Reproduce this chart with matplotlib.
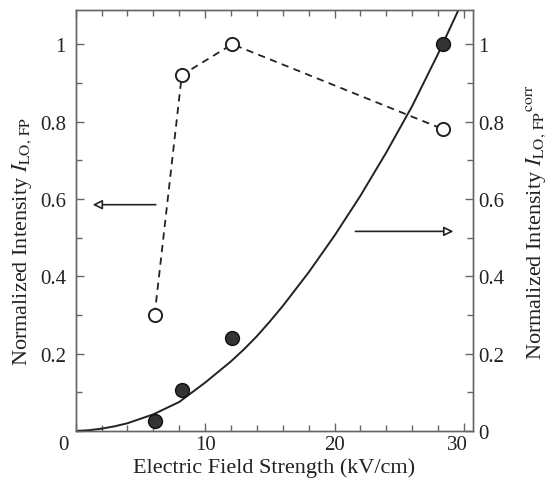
import matplotlib
matplotlib.use("Agg")
import matplotlib.pyplot as plt
import matplotlib.transforms as mtransforms
from matplotlib.ticker import MultipleLocator, FixedLocator

plt.rcParams["font.family"] = ["Liberation Serif", "DejaVu Serif"]
plt.rcParams["mathtext.fontset"] = "stix"

# open circles, left axis (I_LO,FP)
field_open = [6.1, 8.2, 12.1, 28.4]
intensity_open = [0.30, 0.92, 1.00, 0.78]

# filled circles, right axis (I_LO,FP corr)
field_filled = [6.1, 8.2, 12.1, 28.4]
intensity_filled = [0.027, 0.105, 0.24, 1.00]

# solid curve
curve_x = [0, 1, 2, 3, 4, 6, 8, 10, 12, 13, 14, 15, 16, 18, 20, 22, 24,
           26, 28, 29.6]
curve_y = [0, 0.002, 0.006, 0.012, 0.020, 0.043, 0.075, 0.125, 0.18,
           0.211, 0.245, 0.283, 0.323, 0.41, 0.505, 0.608, 0.72, 0.84,
           0.975, 1.09]

x_ticks = [0, 10, 20, 30]
left_ticks = [0.2, 0.4, 0.6, 0.8, 1.0]
left_labels = ["0.2", "0.4", "0.6", "0.8", "1"]
right_ticks = [0, 0.2, 0.4, 0.6, 0.8, 1.0]
right_labels = ["0", "0.2", "0.4", "0.6", "0.8", "1"]

frame = "#666666"
ink = "#222222"
fs = 15
lfs = 16

fig = plt.figure(figsize=(5.54, 4.81), dpi=100)
ax = fig.add_axes([0.1366, 0.1019, 0.7172, 0.875])
ax2 = ax.twinx()

ax.plot(field_open, intensity_open, linestyle=(0, (4, 3)), color=ink,
        lw=1.3, marker="o", markersize=9.5, markerfacecolor="white",
        markeredgecolor=ink, markeredgewidth=1.4, zorder=3)

ax2.plot(curve_x, curve_y, color=ink, lw=1.4, zorder=2)
ax2.plot(field_filled, intensity_filled, linestyle="none", marker="o",
         markersize=10, markerfacecolor="#333333", markeredgecolor="#111111",
         markeredgewidth=1.0, zorder=4)

for a in (ax, ax2):
    a.set_xlim(0, 30.7)
    a.set_ylim(0, 1.088)
    for s in a.spines.values():
        s.set_color(frame)
        s.set_linewidth(1.0)

ax.xaxis.set_major_locator(FixedLocator(x_ticks))
ax.xaxis.set_minor_locator(MultipleLocator(2))
ax.set_xticklabels([str(t) for t in x_ticks])
ax.yaxis.set_major_locator(FixedLocator(left_ticks))
ax.yaxis.set_minor_locator(MultipleLocator(0.1))
ax.set_yticklabels(left_labels)
ax2.yaxis.set_major_locator(FixedLocator(right_ticks))
ax2.yaxis.set_minor_locator(MultipleLocator(0.1))
ax2.set_yticklabels(right_labels)

ax.tick_params(axis="x", which="both", direction="in", top=True,
               colors=frame, labelcolor=ink, labelsize=fs, pad=3)
ax.tick_params(axis="y", which="both", direction="in", right=False,
               colors=frame, labelcolor=ink, labelsize=fs, pad=7)
ax2.tick_params(axis="y", which="both", direction="in", colors=frame,
                labelcolor=ink, labelsize=fs, pad=4)
for a in (ax, ax2):
    a.tick_params(which="major", length=6, width=1.0)
    a.tick_params(which="minor", length=4, width=1.0)

# shift end labels of the x axis like the original
xl = ax.get_xticklabels()
xl[0].set_transform(xl[0].get_transform() +
                    mtransforms.ScaledTranslation(-0.12, 0, fig.dpi_scale_trans))
xl[-1].set_transform(xl[-1].get_transform() +
                     mtransforms.ScaledTranslation(-0.07, 0, fig.dpi_scale_trans))

ax.set_xlabel("Electric Field Strength (kV/cm)", fontsize=lfs, color=ink,
              labelpad=2)
ax.set_ylabel(r"Normalized Intensity $I_{\rm LO,\,FP}$", fontsize=lfs,
              color=ink, labelpad=4)
ax.yaxis.label.set_y(0.452)
ax2.set_ylabel(r"Normalized Intensity $I_{\rm LO,\,FP}{}^{\rm corr}$",
               fontsize=lfs, color=ink, labelpad=14)

# arrows pointing to each axis
ax.annotate("", xy=(1.1, 0.585), xytext=(6.4, 0.585),
            arrowprops=dict(arrowstyle="-|>", color=ink, lw=1.2,
                            mutation_scale=14, fc="white"))
ax2.annotate("", xy=(29.4, 0.516), xytext=(21.4, 0.516),
             arrowprops=dict(arrowstyle="-|>", color=ink, lw=1.2,
                             mutation_scale=14, fc="white"))

fig.savefig("out.png", dpi=100)
